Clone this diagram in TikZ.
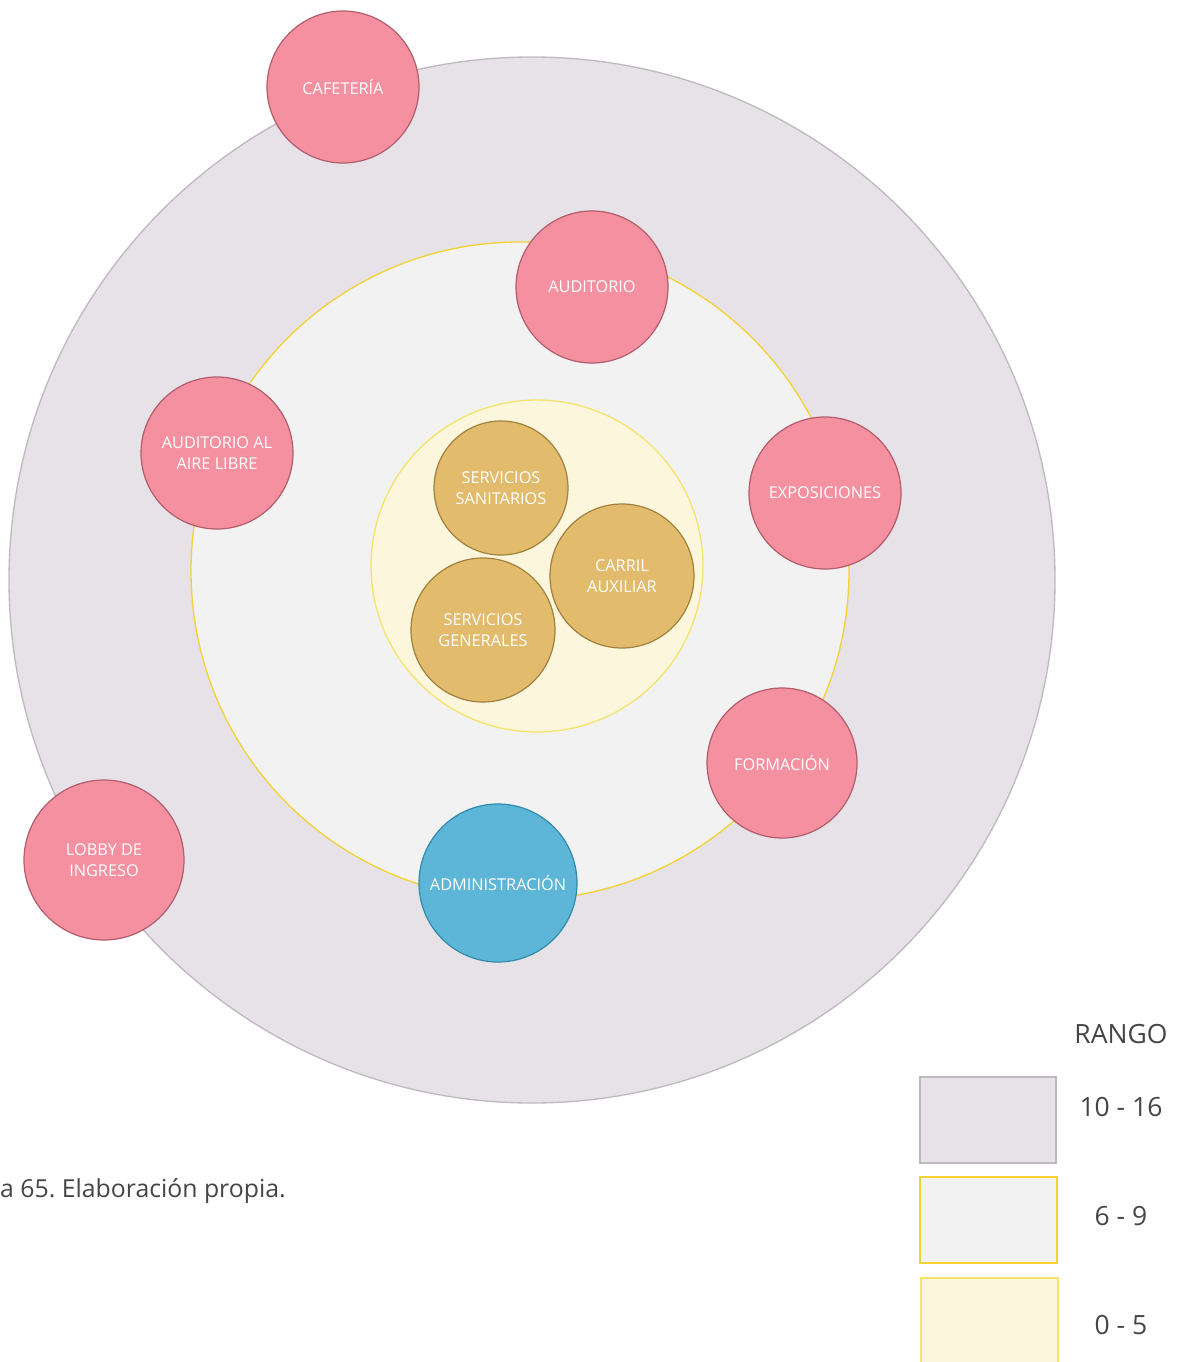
\documentclass[tikz,border=0pt]{standalone}
\usepackage{fontspec}
\setmainfont{Open Sans}
\frenchspacing
\definecolor{rangoalto}{HTML}{E6E2E7}
\definecolor{rangoaltoline}{HTML}{BEB9BF}
\definecolor{rangomedio}{HTML}{F2F2F3}
\definecolor{rangomedioline}{HTML}{F3D232}
\definecolor{rangobajo}{HTML}{FBF6DC}
\definecolor{rangobajoline}{HTML}{F6E36A}
\definecolor{rosa}{HTML}{F4909F}
\definecolor{rosaline}{HTML}{B25C6C}
\definecolor{ocre}{HTML}{E2BB6C}
\definecolor{ocreline}{HTML}{A2813F}
\definecolor{celeste}{HTML}{5DB6D7}
\definecolor{celesteline}{HTML}{2F8BAA}
\definecolor{texto}{HTML}{454545}
\begin{document}
\begin{tikzpicture}[x=1pt,y=-1pt,
  zona/.style={circle,draw,line width=1.3pt,inner sep=0pt},
  espacio/.style={circle,draw,line width=1.2pt,inner sep=0pt,align=center,
    text=white,font=\fontsize{16.3}{20.5}\selectfont},
  publico/.style={espacio,fill=rosa,draw=rosaline},
  servicio/.style={espacio,fill=ocre,draw=ocreline},
  privado/.style={espacio,fill=celeste,draw=celesteline},
  muestra/.style={draw,line width=1.3pt},
  leyenda/.style={text=texto,font=\fontsize{26.5}{30}\selectfont}]
\useasboundingbox (0,0) rectangle (1177,1362);
\clip (0,0) rectangle (1177,1362);

% zonas por rango
\node[zona,fill=rangoalto,draw=rangoaltoline,minimum size=1046pt] (alto) at (532,580) {};
\node[zona,fill=rangomedio,draw=rangomedioline,minimum size=658pt] (medio) at (520,571) {};
\node[zona,fill=rangobajo,draw=rangobajoline,minimum size=332pt] (bajo) at (537,566) {};

% espacios
\node[publico,minimum size=152pt] (cafeteria) at (343,87) {CAFETERÍA};
\node[publico,minimum size=152pt] (auditorio) at (592,287) {AUDITORIO};
\node[publico,minimum size=152pt] (airelibre) at (217,453) {AUDITORIO AL\\AIRE LIBRE};
\node[publico,minimum size=152pt] (exposiciones) at (825,493) {EXPOSICIONES};
\node[publico,minimum size=150pt] (formacion) at (782,763) {FORMACIÓN};
\node[publico,minimum size=160pt] (lobby) at (104,860) {LOBBY DE\\INGRESO};
\node[privado,minimum size=158pt] (admin) at (498,883) {ADMINISTRACIÓN};

\node[servicio,minimum size=134pt] (sanitarios) at (501,488) {SERVICIOS\\SANITARIOS};
\node[servicio,minimum size=144pt] (carril) at (622,576) {CARRIL\\AUXILIAR};
\node[servicio,minimum size=144pt] (generales) at (483,630) {SERVICIOS\\GENERALES};

% leyenda
\node[leyenda] (rango) at (1121,1034) {RANGO};
\draw[muestra,fill=rangoalto,draw=rangoaltoline] (920,1077) rectangle (1056,1163);
\draw[muestra,fill=rangomedio,draw=rangomedioline] (920,1177) rectangle (1057,1263);
\draw[muestra,fill=rangobajo,draw=rangobajoline] (921,1278) rectangle (1058,1372);
\node[leyenda] (altotxt) at (1121,1107) {10 - 16};
\node[leyenda] (mediotxt) at (1121,1216) {6 - 9};
\node[leyenda] (bajotxt) at (1121,1325) {0 - 5};

\node[leyenda,anchor=west,inner sep=0pt,font=\fontsize{24.8}{29}\selectfont] (fuente) at (0,1191) {a 65. Elaboración propia.};
\end{tikzpicture}
\end{document}
